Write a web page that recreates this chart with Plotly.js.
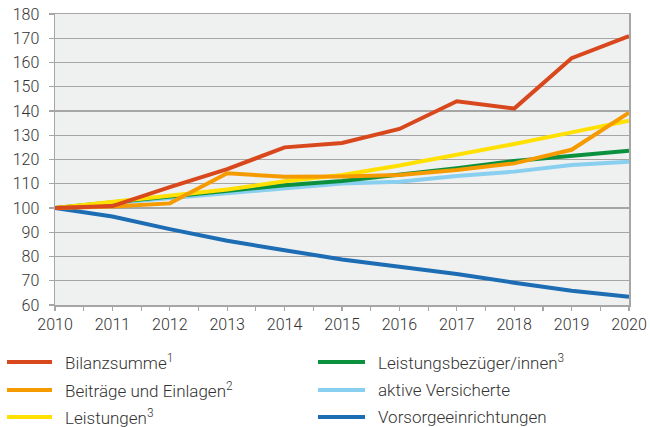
<!DOCTYPE html>
<html>
<head>
<meta charset="utf-8">
<script src="https://cdn.plot.ly/plotly-3.0.1.min.js"></script>
<style>
html,body{margin:0;padding:0;background:#fff;}
#chart{width:650px;height:427px;}
</style>
</head>
<body>
<div id="chart"></div>
<script>
var years = [2010, 2011, 2012, 2013, 2014, 2015, 2016, 2017, 2018, 2019, 2020];
var seriesNames = ["Bilanzsumme<sup>1</sup>", "Beiträge und Einlagen<sup>2</sup>", "Leistungen<sup>3</sup>",
  "Leistungsbezüger/innen<sup>3</sup>", "aktive Versicherte", "Vorsorgeeinrichtungen"];
var bilanzsumme = [100, 100.8, 108.6, 116, 125, 126.8, 132.6, 144, 141, 161.8, 170.9];
var beitraege = [100, 100.6, 101.9, 114.3, 112.9, 113, 113.6, 115.7, 118.4, 124, 139.3];
var leistungen = [100, 102.6, 105.4, 107.6, 111, 113.6, 117.5, 121.9, 126.4, 131.2, 136];
var bezueger = [100, 102.4, 104.4, 106.8, 109.4, 111.1, 113.6, 116.4, 119.4, 121.6, 123.6];
var aktive = [100, 102, 104, 106, 108, 110.1, 110.8, 113.2, 115, 117.7, 119.1];
var vorsorge = [100, 96.5, 91.3, 86.5, 82.6, 78.8, 75.8, 72.8, 69.2, 65.9, 63.4];
var yTicks = [60, 70, 80, 90, 100, 110, 120, 130, 140, 150, 160, 170, 180];

var colors = ["#D8481C", "#F59B00", "#FFE000", "#0B913E", "#89CFF0", "#1C6DB4"];
var values = [bilanzsumme, beitraege, leistungen, bezueger, aktive, vorsorge];
// draw order: bottom first
var drawOrder = [5, 4, 3, 2, 1, 0];

var data = drawOrder.map(function (i) {
  return {
    x: years, y: values[i], type: "scatter", mode: "lines",
    name: seriesNames[i], showlegend: false,
    line: {color: colors[i], width: 4}
  };
});

// manual legend geometry (pixels)
var plotL = 55, plotR = 629, plotT = 14, plotB = 305;
function px2x(p) { return (p - plotL) / (plotR - plotL); }
function py2y(p) { return (plotB - p) / (plotB - plotT); }
var legCols = [[7, 52, 63], [318, 365, 376]];
var legRows = [362, 390, 417];
var legendMap = [[0, 0], [1, 0], [2, 0], [0, 1], [1, 1], [2, 1]]; // [row, col] per series

var shapes = [], annotations = [];
seriesNames.forEach(function (nm, i) {
  var r = legendMap[i][0], c = legendMap[i][1];
  var yy = py2y(legRows[r]);
  shapes.push({type: "line", xref: "paper", yref: "paper",
    x0: px2x(legCols[c][0]), x1: px2x(legCols[c][1]), y0: yy, y1: yy,
    line: {color: colors[i], width: 4}});
  annotations.push({xref: "paper", yref: "paper", x: px2x(legCols[c][2]), y: yy,
    xanchor: "left", yanchor: "middle", showarrow: false, text: nm,
    font: {family: "Roboto", size: 17, color: "#333333", weight: 300}});
});

var layout = {
  width: 650, height: 427,
  margin: {l: plotL, r: 650 - plotR, t: plotT, b: 427 - plotB, pad: 0},
  paper_bgcolor: "#ffffff", plot_bgcolor: "#EFF0F0",
  font: {family: "Roboto", size: 16, color: "#333333", weight: 300},
  xaxis: {
    range: [2010, 2020], tickvals: years, ticktext: years.map(String),
    ticks: "outside", ticklen: 4, tickcolor: "#A6A6A6", tickwidth: 1.2,
    showgrid: false, zeroline: false,
    showline: true, linecolor: "#A6A6A6", linewidth: 1.5, mirror: true,
    minor: {tick0: 2010.5, dtick: 1, ticks: "outside", ticklen: 4, tickcolor: "#A6A6A6", tickwidth: 1.2, showgrid: false},
    tickfont: {family: "Roboto", size: 16, color: "#333333", weight: 300},
    fixedrange: true
  },
  yaxis: {
    range: [60, 180], tickvals: yTicks, ticktext: yTicks.map(String),
    ticks: "outside", ticklen: 5, tickcolor: "#A6A6A6", tickwidth: 1.2,
    showgrid: true, gridcolor: "#A6A6A6", gridwidth: 1.3, zeroline: false,
    showline: true, linecolor: "#A6A6A6", linewidth: 1.5, mirror: true,
    ticklabelstandoff: 6,
    tickfont: {family: "Roboto", size: 16, color: "#333333", weight: 300},
    fixedrange: true
  },
  shapes: shapes,
  annotations: annotations,
  showlegend: false
};

Plotly.newPlot("chart", data, layout, {staticPlot: true, displayModeBar: false});
</script>
</body>
</html>
